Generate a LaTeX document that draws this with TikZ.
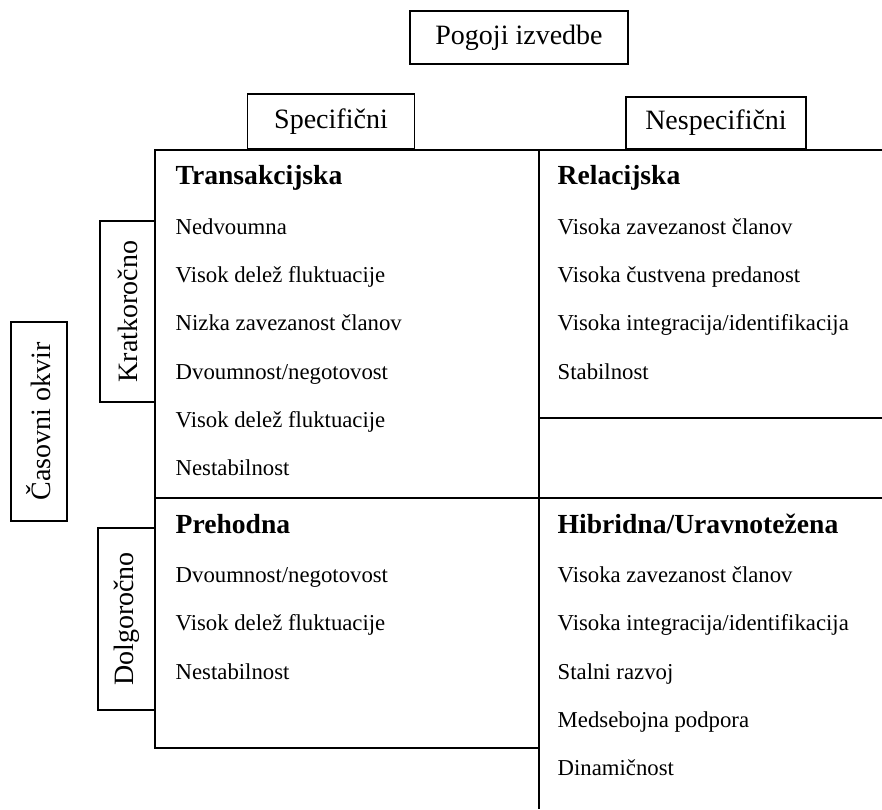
\documentclass[tikz,border=0pt]{standalone}
\usepackage{fontspec}
\setmainfont{Liberation Serif}
\usepackage{tikz}

\tikzset{
    item/.style={anchor=base west, inner sep=0pt, font=\fontsize{22.75}{27}\selectfont},
    title/.style={anchor=base west, inner sep=0pt, font=\bfseries\fontsize{27.6}{32}\selectfont},
    labelbox/.style={draw, line width=1.4pt, inner sep=0pt, font=\fontsize{28}{33}\selectfont},
}

\begin{document}
\begin{tikzpicture}[x=1pt, y=-1pt, line width=1.4pt]
    \useasboundingbox (0, 0) rectangle (882, 809);

    \node[labelbox, minimum width=218, minimum height=53] (pogoji) at (519, 37.5) {Pogoji izvedbe};
    \node[labelbox, minimum width=167, minimum height=55] (specificni) at (331, 121.5) {Specifični};
    \node[labelbox, minimum width=180, minimum height=52] (nespecificni) at (716, 123) {Nespecifični};

    \node[labelbox, rotate=90, minimum width=199, minimum height=56] (casovni) at (39, 421.5) {Časovni okvir};
    \node[labelbox, rotate=90, minimum width=181, minimum height=55] (kratko) at (127.5, 311.5) {Kratkoročno};
    \node[labelbox, rotate=90, minimum width=182, minimum height=57] (dolgo) at (126.5, 619) {Dolgoročno};

    \draw (155, 150) rectangle (539, 498);
    \draw (155, 498) rectangle (539, 748);
    \draw (539, 150) -- (882, 150);
    \draw (539, 418) -- (882, 418);
    \draw (539, 498) -- (882, 498);
    \draw (539, 498) -- (539, 809);

    \node[title] (trans) at (175, 184) {Transakcijska};
    \node[item] (trans1) at (175, 234) {Nedvoumna};
    \node[item] (trans2) at (175, 282) {Visok delež fluktuacije};
    \node[item] (trans3) at (175, 330) {Nizka zavezanost članov};
    \node[item] (trans4) at (175, 379) {Dvoumnost/negotovost};
    \node[item] (trans5) at (175, 427) {Visok delež fluktuacije};
    \node[item] (trans6) at (175, 475) {Nestabilnost};

    \node[title] (rel) at (557, 184) {Relacijska};
    \node[item] (rel1) at (557, 234) {Visoka zavezanost članov};
    \node[item] (rel2) at (557, 282) {Visoka čustvena predanost};
    \node[item] (rel3) at (557, 330) {Visoka integracija/identifikacija};
    \node[item] (rel4) at (557, 379) {Stabilnost};

    \node[title] (preh) at (175, 533) {Prehodna};
    \node[item] (preh1) at (175, 582) {Dvoumnost/negotovost};
    \node[item] (preh2) at (175, 630) {Visok delež fluktuacije};
    \node[item] (preh3) at (175, 679) {Nestabilnost};

    \node[title] (hib) at (557, 533) {Hibridna/Uravnotežena};
    \node[item] (hib1) at (557, 582) {Visoka zavezanost članov};
    \node[item] (hib2) at (557, 630) {Visoka integracija/identifikacija};
    \node[item] (hib3) at (557, 679) {Stalni razvoj};
    \node[item] (hib4) at (557, 727) {Medsebojna podpora};
    \node[item] (hib5) at (557, 775) {Dinamičnost};
\end{tikzpicture}
\end{document}
